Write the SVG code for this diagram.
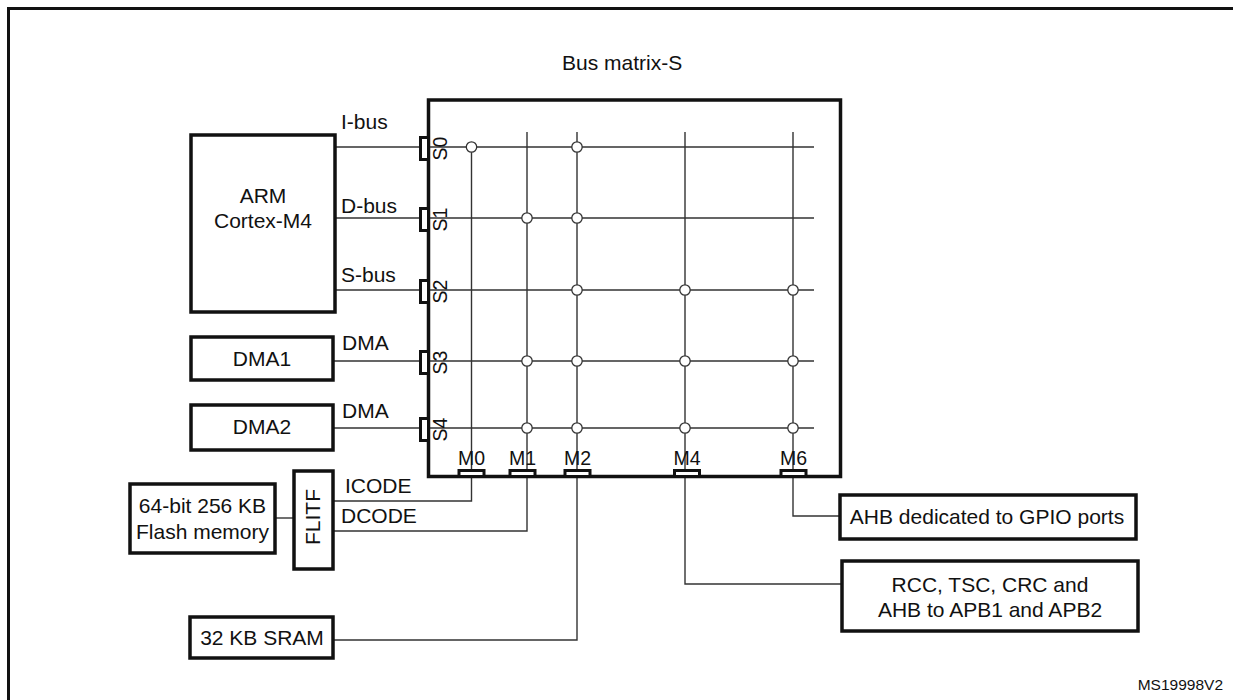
<svg xmlns="http://www.w3.org/2000/svg" width="1233" height="700" viewBox="0 0 1233 700">
<style>
text{font-family:"Liberation Sans",Arial,sans-serif;font-size:21px;fill:#111}
.c{text-anchor:middle}
.box{fill:#fff;stroke:#111;stroke-width:3.5}
.port{fill:#fff;stroke:#111;stroke-width:3}
.ln{fill:none;stroke:#333;stroke-width:1.4}
.j{fill:#fff;stroke:#333;stroke-width:1.3}
.sm{font-size:19.5px}
</style>
<rect width="1233" height="700" fill="#fff"/>
<path d="M8.5 700V8.5H1233" fill="none" stroke="#111" stroke-width="3"/>

<g id="connectors">
  <path class="ln" d="M335 147H420M335 218H420M335 290H420M333 361H420M333 428H420"/>
  <path class="ln" d="M275 518H294"/>
  <path class="ln" d="M333 501H471.5V478"/>
  <path class="ln" d="M333 531H527V478"/>
  <path class="ln" d="M333 640H577V478"/>
  <path class="ln" d="M842 584H685V478"/>
  <path class="ln" d="M840 516H793V478"/>
</g>

<g id="bus-matrix">
  <rect class="box" x="428.5" y="100" width="412" height="376.5"/>
  <text x="562" y="70">Bus matrix-S</text>
  <g id="grid">
    <path class="ln" d="M430 147H814M430 218H814M430 290H814M430 361H814M430 428H814"/>
    <path class="ln" d="M471.5 147V476M527 132V476M577 132V476M685 132V476M793 132V476"/>
    <circle class="j" cx="471.5" cy="147" r="5.2"/>
    <circle class="j" cx="577" cy="147" r="5.2"/>
    <circle class="j" cx="527" cy="218" r="5.2"/>
    <circle class="j" cx="577" cy="218" r="5.2"/>
    <circle class="j" cx="577" cy="290" r="5.2"/>
    <circle class="j" cx="685" cy="290" r="5.2"/>
    <circle class="j" cx="793" cy="290" r="5.2"/>
    <circle class="j" cx="527" cy="361" r="5.2"/>
    <circle class="j" cx="577" cy="361" r="5.2"/>
    <circle class="j" cx="685" cy="361" r="5.2"/>
    <circle class="j" cx="793" cy="361" r="5.2"/>
    <circle class="j" cx="527" cy="428" r="5.2"/>
    <circle class="j" cx="577" cy="428" r="5.2"/>
    <circle class="j" cx="685" cy="428" r="5.2"/>
    <circle class="j" cx="793" cy="428" r="5.2"/>
  </g>
  <g id="s-ports">
    <rect class="port" x="420.5" y="137.5" width="8" height="22"/>
    <rect class="port" x="420.5" y="208.5" width="8" height="22"/>
    <rect class="port" x="420.5" y="280.5" width="8" height="22"/>
    <rect class="port" x="420.5" y="351.5" width="8" height="22"/>
    <rect class="port" x="420.5" y="418.5" width="8" height="22"/>
    <text class="c sm" transform="translate(447,148.5) rotate(-90)">S0</text>
    <text class="c sm" transform="translate(447,219.5) rotate(-90)">S1</text>
    <text class="c sm" transform="translate(447,291.5) rotate(-90)">S2</text>
    <text class="c sm" transform="translate(447,362.5) rotate(-90)">S3</text>
    <text class="c sm" transform="translate(447,429.5) rotate(-90)">S4</text>
  </g>
  <g id="m-ports">
    <rect class="port" x="459" y="470.5" width="25" height="6"/>
    <rect class="port" x="510" y="470.5" width="25" height="6"/>
    <rect class="port" x="565" y="470.5" width="25" height="6"/>
    <rect class="port" x="674.5" y="470.5" width="25" height="6"/>
    <rect class="port" x="781" y="470.5" width="25" height="6"/>
    <text class="c sm" x="471.5" y="465">M0</text>
    <text class="c sm" x="522.5" y="465">M1</text>
    <text class="c sm" x="577.5" y="465">M2</text>
    <text class="c sm" x="687" y="465">M4</text>
    <text class="c sm" x="793.5" y="465">M6</text>
  </g>
</g>

<g id="bus-labels">
  <text x="341" y="129">I-bus</text>
  <text x="341" y="213">D-bus</text>
  <text x="341" y="282">S-bus</text>
  <text x="342" y="350">DMA</text>
  <text x="342" y="418">DMA</text>
  <text x="345" y="493">ICODE</text>
  <text x="341" y="523">DCODE</text>
</g>

<g id="arm">
  <rect class="box" x="191" y="135" width="144" height="177"/>
  <text class="c" x="263" y="203">ARM</text>
  <text class="c" x="263" y="228">Cortex-M4</text>
</g>
<g id="dma1">
  <rect class="box" x="191" y="337" width="142" height="43"/>
  <text class="c" x="262" y="366">DMA1</text>
</g>
<g id="dma2">
  <rect class="box" x="191" y="405" width="142" height="45"/>
  <text class="c" x="262" y="434">DMA2</text>
</g>
<g id="flash">
  <rect class="box" x="130" y="484" width="145" height="69"/>
  <text class="c" x="202.5" y="513">64-bit 256 KB</text>
  <text class="c" x="202.5" y="539">Flash memory</text>
</g>
<g id="flitf">
  <rect class="box" x="294" y="471" width="39" height="98"/>
  <text class="c" transform="translate(320,517) rotate(-90)">FLITF</text>
</g>
<g id="sram">
  <rect class="box" x="190" y="617" width="143" height="41"/>
  <text class="c" x="262" y="645">32 KB SRAM</text>
</g>
<g id="gpio">
  <rect class="box" x="840" y="495" width="296" height="44"/>
  <text class="c" x="987" y="524">AHB dedicated to GPIO ports</text>
</g>
<g id="rcc">
  <rect class="box" x="842" y="561" width="296" height="70"/>
  <text class="c" x="990" y="592">RCC, TSC, CRC and</text>
  <text class="c" x="990" y="617">AHB to APB1 and APB2</text>
</g>
<text x="1223" y="690" style="font-size:15.5px;text-anchor:end">MS19998V2</text>
</svg>
